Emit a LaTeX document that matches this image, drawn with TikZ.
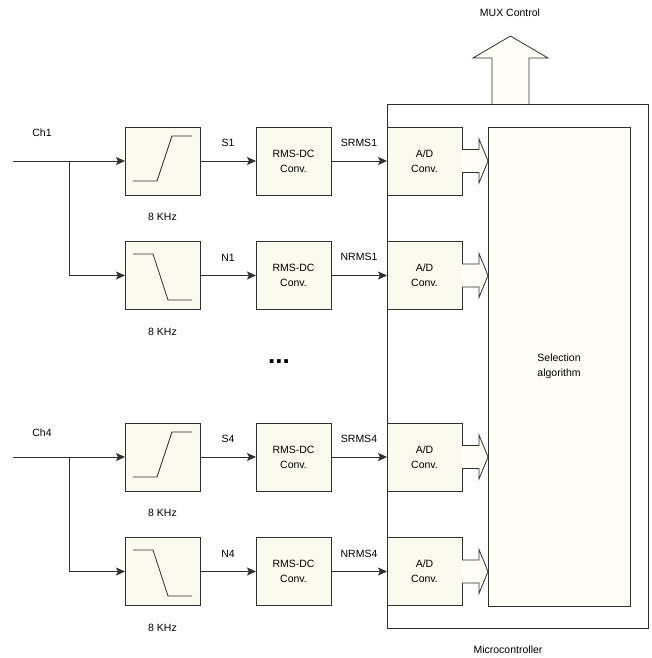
\documentclass[tikz,border=0pt]{standalone}
\usepackage{fontspec}
\setmainfont{Liberation Sans}
\usetikzlibrary{arrows.meta, positioning, calc}
\definecolor{boxcream}{HTML}{FAFAEE}
\definecolor{selcream}{HTML}{FEFEF6}
\definecolor{linegray}{HTML}{303030}

\begin{document}
\begin{tikzpicture}[
    x=1pt, y=-1pt,
    node distance=56pt,
    every node/.style={font=\fontsize{10.5}{15}\selectfont},
    block/.style={rectangle, draw=linegray, fill=boxcream, minimum width=75pt, minimum height=68pt, inner sep=0pt, outer sep=0pt, align=center, line width=0.8pt},
    frame/.style={rectangle, draw=linegray, fill=white, inner sep=0pt, outer sep=0pt, line width=0.8pt},
    lbl/.style={inner sep=0pt},
    wire/.style={draw=linegray, line width=0.8pt, -{Stealth[length=9pt, width=8pt, inset=2pt]}},
    plain/.style={draw=linegray, line width=0.8pt},
    hollow/.style={draw=linegray, fill=selcream, line width=0.8pt, line join=miter}
]
    \useasboundingbox (0,0) rectangle (651,658);

    % Microcontroller
    \node [frame, minimum width=261pt, minimum height=524pt] (micro) at (517.5,366) {};
    \node [block, fill=selcream, minimum width=142pt, minimum height=479pt] (sel) at (559,366.5) {Selection\\algorithm};
    \node [lbl] (microlbl) at (508,650) {Microcontroller};

    % MUX output
    \coordinate (muxbase) at (510.5,104);
    \draw [hollow] ($(muxbase)+(-18.5,0)$) -- ++(0,-46) -- ++(-19,0) -- ++(37.5,-22) -- ++(37.5,22) -- ++(-19,0) -- ++(0,46);
    \node [lbl] (mux) at (510,13) {MUX Control};

    % Channel 1
    \node [block] (hp1) at (162.5,161) {};
    \node [block, right=of hp1] (rmss1) {RMS-DC\\Conv.};
    \node [block, right=of rmss1] (ads1) {A/D\\Conv.};
    \node [block] (lp1) at (162.5,275.5) {};
    \node [block, right=of lp1] (rmsn1) {RMS-DC\\Conv.};
    \node [block, right=of rmsn1] (adn1) {A/D\\Conv.};
    \node [lbl, below=18pt of hp1] (fqs1) {8 KHz};
    \node [lbl, below=18pt of lp1] (fqn1) {8 KHz};
    \node [lbl] (ch1) at (42,133) {Ch1};

    % Channel 4
    \node [block] (hp4) at (162.5,457) {};
    \node [block, right=of hp4] (rmss4) {RMS-DC\\Conv.};
    \node [block, right=of rmss4] (ads4) {A/D\\Conv.};
    \node [block] (lp4) at (162.5,571.5) {};
    \node [block, right=of lp4] (rmsn4) {RMS-DC\\Conv.};
    \node [block, right=of rmsn4] (adn4) {A/D\\Conv.};
    \node [lbl, below=18pt of hp4] (fqs4) {8 KHz};
    \node [lbl, below=18pt of lp4] (fqn4) {8 KHz};
    \node [lbl] (ch4) at (42,433) {Ch4};

    \node [lbl, font=\fontsize{26}{26}\selectfont\bfseries] (dots) at (279,362) {...};

    % Filter curves
    \draw [plain] ($(hp1.center)+(-29.5,20)$) -- ++(24,0) -- ++(15,-45) -- ++(20,0);
    \draw [plain] ($(lp1.center)+(-29.5,-21.5)$) -- ++(20,0) -- ++(15,46) -- ++(24,0);
    \draw [plain] ($(hp4.center)+(-29.5,20)$) -- ++(24,0) -- ++(15,-45) -- ++(20,0);
    \draw [plain] ($(lp4.center)+(-29.5,-21.5)$) -- ++(20,0) -- ++(15,46) -- ++(24,0);

    % Inputs
    \coordinate (in1) at (13,161);
    \coordinate (br1) at (69,161);
    \coordinate (in4) at (13,457);
    \coordinate (br4) at (69,457);
    \draw [wire] (in1) -- (hp1.west);
    \draw [wire] (br1) |- (lp1.west);
    \draw [wire] (in4) -- (hp4.west);
    \draw [wire] (br4) |- (lp4.west);

    % Connections
    \draw [wire] (hp1) -- node[lbl, above=14pt]{S1} (rmss1);
    \draw [wire] (rmss1) -- node[lbl, above=14pt]{SRMS1} (ads1);
    \draw [wire] (lp1) -- node[lbl, above=14pt]{N1} (rmsn1);
    \draw [wire] (rmsn1) -- node[lbl, above=14pt]{NRMS1} (adn1);
    \draw [wire] (hp4) -- node[lbl, above=14pt]{S4} (rmss4);
    \draw [wire] (rmss4) -- node[lbl, above=14pt]{SRMS4} (ads4);
    \draw [wire] (lp4) -- node[lbl, above=14pt]{N4} (rmsn4);
    \draw [wire] (rmsn4) -- node[lbl, above=14pt]{NRMS4} (adn4);

    % Data buses to the selection algorithm
    \foreach \ad in {ads1, adn1, ads4, adn4}
        \draw [hollow] ($(\ad.east)+(0,-11.5)$) -- ++(17,0) -- ++(0,-10.5) -- (\ad.east -| sel.west) -- ++(-9,22) -- ++(0,-10.5) -- ++(-17,0);

\end{tikzpicture}
\end{document}
